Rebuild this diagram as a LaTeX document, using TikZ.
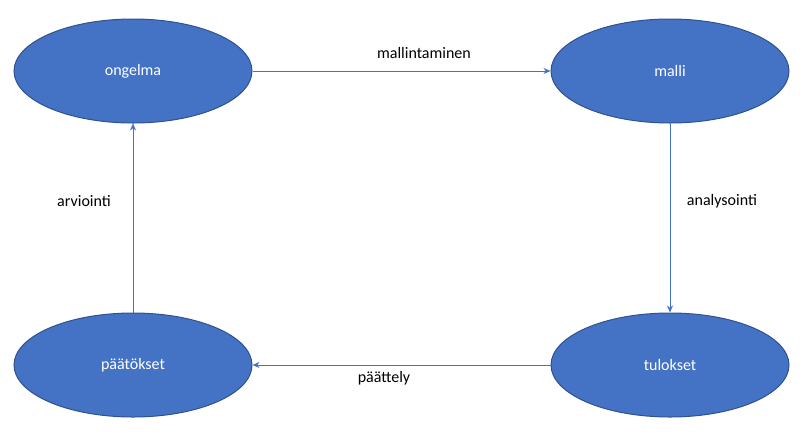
\documentclass[tikz,border=0pt]{standalone}
\usepackage{fontspec}
\setmainfont{Carlito}
\usetikzlibrary{shapes.geometric,arrows.meta}
\definecolor{fillb}{HTML}{4472C4}
\definecolor{edgeb}{HTML}{2F528F}
\tikzset{
  st/.style={ellipse,draw=edgeb,line width=1pt,fill=fillb,minimum width=238pt,minimum height=104pt,inner sep=0pt,text=white,font=\fontsize{16}{19}\selectfont},
  conn/.style={draw=fillb,line width=0.9pt,-{Stealth[length=7pt,width=6pt]}},
  lbl/.style={font=\fontsize{16}{19}\selectfont,text=black}
}
\begin{document}
\begin{tikzpicture}[x=1pt,y=-1pt]
\useasboundingbox (0,0) rectangle (806,440);
\node[st] (o) at (133,71) {ongelma};
\node[st] (m) at (670,71) {malli};
\node[st] (p) at (133,365) {päätökset};
\node[st] (t) at (670,365) {tulokset};
\draw[conn] (o) -- (m);
\draw[conn] (m) -- (t);
\draw[conn] (t) -- (p);
\draw[conn] (p) -- (o);
\node[lbl] (l1) at (424,53) {mallintaminen};
\node[lbl] (l2) at (722,201) {analysointi};
\node[lbl] (l3) at (384,378) {päättely};
\node[lbl] (l4) at (84,201) {arviointi};
\end{tikzpicture}
\end{document}
